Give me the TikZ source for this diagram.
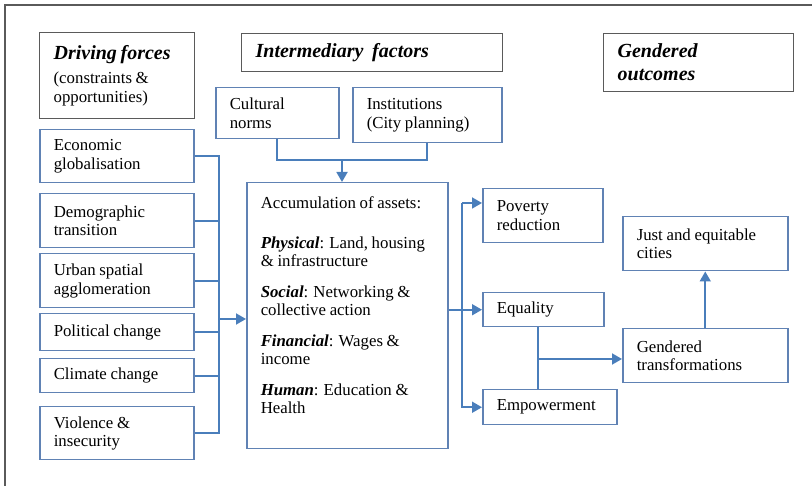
\documentclass[tikz,border=0pt]{standalone}
\usepackage{fontspec}
\setmainfont[WordSpace=0.8]{Liberation Serif}
\usetikzlibrary{arrows.meta}
\definecolor{boxblue}{RGB}{96,130,180}
\definecolor{lineblue}{RGB}{74,126,187}
\definecolor{headgray}{RGB}{90,90,90}
\newcommand\txtfont{\fontsize{16.8}{18.5}\selectfont}
\newcommand\hdfont{\fontsize{20}{23}\selectfont\bfseries\itshape}

\begin{document}
\begin{tikzpicture}[x=1pt,y=-1pt,
  box/.style={draw=boxblue, line width=1.5pt, anchor=north west, align=left, inner xsep=14pt, inner ysep=0pt, font=\txtfont,
    execute at begin node={\spaceskip=0.22em plus 0.1em\relax}},
  head/.style={box, draw=headgray, line width=1.3pt},
  sz/.style n args={2}{text width=#1pt, minimum height=#2pt},
  conn/.style={draw=lineblue, line width=1.8pt},
  arr/.style={conn, -{Triangle[width=11pt,length=10pt]}}]
\useasboundingbox (0,0) rectangle (812,486);
\draw[headgray, line width=1.4pt] (5,486) -- (5,5) -- (812,5);

\node[head, sz={127}{86}] (drive) at (39,32) {{\hdfont Driving forces}\\[6pt](constraints \&\\opportunities)};
\node[head, sz={233}{38}, font=\hdfont] (inter) at (241,33) {Intermediary\ \ factors};
\node[head, sz={162}{58}, font=\hdfont] (gend) at (603,33) {Gendered\\outcomes};

\node[box, sz={126}{53}] (econ) at (39,129) {Economic\\globalisation};
\node[box, sz={126}{54}] (demo) at (39,193) {Demographic\\transition};
\node[box, sz={126}{54}] (urban) at (39,253) {Urban spatial\\agglomeration};
\node[box, sz={126}{37}] (polit) at (39,313) {Political change};
\node[box, sz={126}{34}] (clim) at (39,358) {Climate change};
\node[box, sz={126}{53}] (viol) at (39,406) {Violence \&\\insecurity};

\node[box, sz={95}{51}] (cult) at (215,87) {Cultural\\norms};
\node[box, sz={121}{55}] (inst) at (352,87) {Institutions\\(City planning)};

\node[box, inner ysep=14pt] (assets) at (246,182) {\parbox[t][238pt][t]{173pt}{\raggedright
  Accumulation of assets:\\[21pt]
  \textbf{\textit{Physical}}: Land, housing \& infrastructure\\[12pt]
  \textbf{\textit{Social}}: Networking \& collective action\\[12pt]
  \textbf{\textit{Financial}}: Wages \& income\\[12pt]
  \textbf{\textit{Human}}: Education \& Health}};

\node[box, sz={92}{54}] (pov) at (482,188) {Poverty\\reduction};
\node[box, sz={93}{34}] (equal) at (482,292) {Equality};
\node[box, sz={106}{35}] (empow) at (482,389) {Empowerment};
\node[box, sz={137}{54}] (just) at (622,216) {Just and equitable\\cities};
\node[box, sz={137}{54}] (gtrans) at (622,328) {Gendered\\transformations};

\coordinate (lbus) at (219,319);
\draw[conn] (econ.east) -| (lbus) |- (viol.east);
\foreach \n in {demo,urban,polit,clim}
  \draw[conn] (\n.east) -- (\n.east -| lbus);
\draw[arr] (lbus) -- (lbus -| assets.west);

\coordinate (merge) at (342,160);
\draw[conn] (cult.south) |- (merge) -| (inst.south);
\draw[arr] (merge) -- (merge |- assets.north);

\coordinate (rbus) at (462,203);
\draw[arr] (rbus) -- (rbus -| pov.west);
\draw[arr] (rbus) |- (empow.west);
\draw[arr] (assets.east |- equal.west) -- (equal.west);

\coordinate (join) at (538,359);
\draw[conn] (equal.south -| join) -- (empow.north -| join);
\draw[arr] (join) -- (join -| gtrans.west);
\draw[arr] (gtrans.north) -- (just.south);
\end{tikzpicture}
\end{document}
